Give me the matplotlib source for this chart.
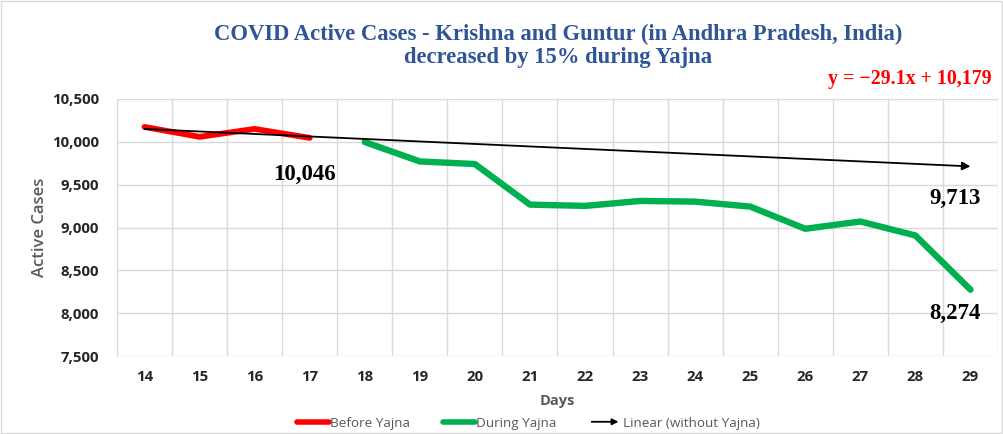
import matplotlib
matplotlib.use("Agg")
import matplotlib.pyplot as plt
from matplotlib.lines import Line2D
from matplotlib.patches import FancyArrowPatch, Rectangle
from matplotlib.legend_handler import HandlerBase
from matplotlib.ticker import FuncFormatter

days = [14, 15, 16, 17, 18, 19, 20, 21, 22, 23, 24, 25, 26, 27, 28, 29]
before_days = [14, 15, 16, 17]
before_vals = [10174, 10058, 10151, 10046]
during_days = [18, 19, 20, 21, 22, 23, 24, 25, 26, 27, 28, 29]
during_vals = [9998, 9771, 9741, 9267, 9252, 9310, 9302, 9244, 8985, 9070, 8907, 8274]
slope, intercept = -29.1, 10179
title = "COVID Active Cases - Krishna and Guntur (in Andhra Pradesh, India)\ndecreased by 15% during Yajna"
yticks = [7500, 8000, 8500, 9000, 9500, 10000, 10500]

RED = "#FF0000"
GREEN = "#00B050"
BLUE = "#2F5597"
SERIF = "Liberation Serif"
SANS = "Open Sans"

fig = plt.figure(figsize=(10.04, 4.34), dpi=100)
fig.patches.append(Rectangle((0.001, 0.002), 0.997, 0.995, transform=fig.transFigure,
                             fill=False, edgecolor="#D9D9D9", lw=1))
ax = fig.add_axes([117/1004, 1-356/434, (998-117)/1004, (356-99)/434])

pos = {d: i for i, d in enumerate(days)}
xb = [pos[d] for d in before_days]
xd = [pos[d] for d in during_days]

ax.plot(xb, before_vals, color=RED, lw=4.2, solid_capstyle="round", solid_joinstyle="round", zorder=3)
ax.plot(xd, during_vals, color=GREEN, lw=4.6, solid_capstyle="round", solid_joinstyle="round", zorder=3)

x0, x1 = 0, len(days) - 1
y0 = slope * 1 + intercept
y1 = slope * len(days) + intercept
ax.annotate("", xy=(x1, y1), xytext=(x0, y0),
            arrowprops=dict(arrowstyle="-|>", color="black", lw=1.3, mutation_scale=12,
                            shrinkA=0, shrinkB=0), zorder=4)

ax.set_xlim(-0.5, len(days) - 0.5)
ax.set_ylim(7500, 10500)
ax.set_yticks(yticks)
ax.yaxis.set_major_formatter(FuncFormatter(lambda v, p: f"{int(v):,}"))
ax.set_xticks(range(len(days)))
ax.set_xticklabels([str(d) for d in days])
ax.set_xticks([i - 0.5 for i in range(len(days) + 1)], minor=True)
ax.grid(axis="y", which="major", color="#D9D9D9", lw=1)
ax.grid(axis="x", which="minor", color="#D9D9D9", lw=1)
ax.set_axisbelow(True)
for s in ax.spines.values():
    s.set_visible(False)
ax.spines["left"].set_visible(True)
ax.spines["left"].set_color("#D9D9D9")
ax.tick_params(axis="both", which="both", length=0)
ax.tick_params(axis="y", pad=13)
ax.tick_params(axis="x", pad=10)
for lab in ax.get_xticklabels() + ax.get_yticklabels():
    lab.set_fontfamily(SANS)
    lab.set_fontweight("bold")
    lab.set_fontsize(10.8)
    lab.set_color("#262626")

ax.set_ylabel("Active Cases", fontfamily=SANS, fontweight="semibold", fontsize=12, color="#595959", labelpad=3)
ax.set_xlabel("Days", fontfamily=SANS, fontweight="bold", fontsize=10.5, color="#595959", labelpad=7)

# data labels
ax.annotate(f"{before_vals[-1]:,}", xy=(xb[-1], before_vals[-1]), xytext=(-4, -26),
            textcoords="offset points", ha="center", va="center",
            fontfamily=SERIF, fontweight="bold", fontsize=16.5)
ax.annotate(f"{round(y1):,}", xy=(x1, y1), xytext=(-11, -23),
            textcoords="offset points", ha="center", va="center",
            fontfamily=SERIF, fontweight="bold", fontsize=16.5)
ax.annotate(f"{during_vals[-1]:,}", xy=(xd[-1], during_vals[-1]), xytext=(-11, -17),
            textcoords="offset points", ha="center", va="center",
            fontfamily=SERIF, fontweight="bold", fontsize=16.5)

fig.text(558/1004, 1-46/434, title, ha="center", va="center", fontfamily=SERIF,
         fontweight="bold", fontsize=16.3, color=BLUE, linespacing=1.15)
fig.text(910/1004, 1-79/434, f"y = \u2212{abs(slope)}x + {intercept:,}", ha="center", va="center",
         fontfamily=SERIF, fontweight="bold", fontsize=14.3, color=RED)


class ArrowHandler(HandlerBase):
    def create_artists(self, legend, orig_handle, xdescent, ydescent, width, height, fontsize, trans):
        a = FancyArrowPatch((-xdescent, height / 2 - ydescent), (width - xdescent, height / 2 - ydescent),
                            arrowstyle="-|>", mutation_scale=9, color="black", lw=1.3, transform=trans)
        return [a]


class ArrowKey:
    pass


handles = [Line2D([], [], color=RED, lw=4, solid_capstyle="round"),
           Line2D([], [], color=GREEN, lw=4, solid_capstyle="round"),
           ArrowKey()]
labels = ["Before Yajna", "During Yajna", "Linear (without Yajna)"]
leg = fig.legend(handles, labels, loc="center", bbox_to_anchor=(528/1004, 1-423/434), ncol=3,
                 frameon=False, handlelength=2.4, handletextpad=0.1, columnspacing=2.4,
                 handler_map={ArrowKey: ArrowHandler()},
                 prop={"family": SANS, "size": 9.7})
for t in leg.get_texts():
    t.set_color("#595959")

fig.savefig("out.png", dpi=100)
